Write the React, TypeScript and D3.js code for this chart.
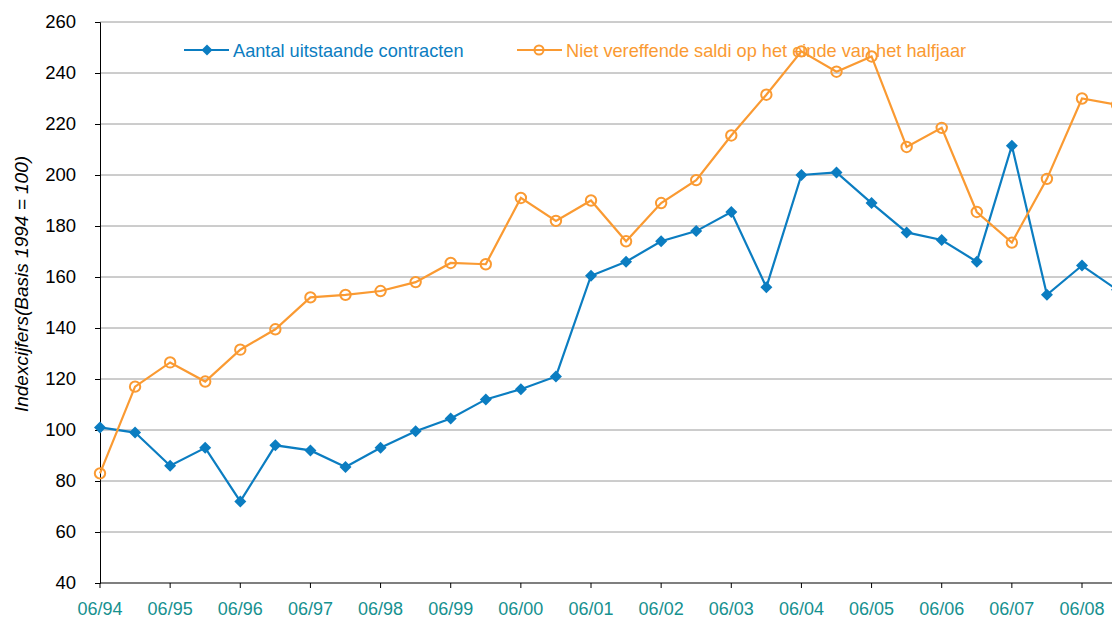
import React, { useEffect, useRef } from 'react';
import * as d3 from 'd3';

// half-year periods, 06/94 .. 12/08
const periods = [
  '06/94', '12/94', '06/95', '12/95', '06/96', '12/96', '06/97', '12/97', '06/98', '12/98',
  '06/99', '12/99', '06/00', '12/00', '06/01', '12/01', '06/02', '12/02', '06/03', '12/03',
  '06/04', '12/04', '06/05', '12/05', '06/06', '12/06', '06/07', '12/07', '06/08', '12/08',
];
const contracten = [
  101, 99, 86, 93, 72, 94, 92, 85.5, 93, 99.5,
  104.5, 112, 116, 121, 160.5, 166, 174, 178, 185.5, 156,
  200, 201, 189, 177.5, 174.5, 166, 211.5, 153, 164.5, 155,
];
const saldi = [
  83, 117, 126.5, 119, 131.5, 139.5, 152, 153, 154.5, 158,
  165.5, 165, 191, 182, 190, 174, 189, 198, 215.5, 231.5,
  248.5, 240.5, 246.5, 211, 218.5, 185.5, 173.5, 198.5, 230, 227.5,
];
const yTicks = [40, 60, 80, 100, 120, 140, 160, 180, 200, 220, 240, 260];
const seriesNames = ['Aantal uitstaande contracten', 'Niet vereffende saldi op het einde van het halfjaar'];

const BLUE = '#0b7dc1';
const ORANGE = '#fa9a32';
const TEAL = '#16918f';
const FONT = 'Liberation Sans, Arial, sans-serif';

// square diamond marker
const diamondPath = (s: number) => `M0,${-s}L${s},0L0,${s}L${-s},0Z`;

export default function App() {
  const ref = useRef<SVGSVGElement>(null);

  useEffect(() => {
    const svg = d3.select(ref.current);
    svg.selectAll('*').remove();
    const width = 1112;
    const left = 100;
    const top = 22;
    const bottom = 583;

    const x = d3.scaleLinear().domain([0, 28]).range([left, 1082]);
    const y = d3.scaleLinear().domain([40, 260]).range([bottom, top]);

    svg.append('defs').append('clipPath').attr('id', 'plotclip')
      .append('rect').attr('x', 0).attr('y', 0).attr('width', width).attr('height', 619);

    // gridlines
    svg.append('g')
      .selectAll('line')
      .data(yTicks.filter(d => d > 40))
      .join('line')
      .attr('x1', left)
      .attr('x2', width)
      .attr('y1', d => y(d))
      .attr('y2', d => y(d))
      .attr('stroke', '#9a9a9a')
      .attr('stroke-width', 1);

    // y axis
    const yAxis = d3.axisLeft(y).tickValues(yTicks).tickSize(5).tickPadding(19).tickFormat(d3.format('d'));
    const gy = svg.append('g').attr('transform', `translate(${left},0)`).call(yAxis);
    gy.select('.domain').attr('stroke', '#000');
    gy.selectAll('.tick line').attr('stroke', '#000');
    gy.selectAll('.tick text')
      .attr('fill', '#000')
      .style('font-family', FONT)
      .style('font-size', '18.5px');

    // x axis line + ticks
    svg.append('line')
      .attr('x1', left).attr('x2', width)
      .attr('y1', bottom).attr('y2', bottom)
      .attr('stroke', '#000').attr('stroke-width', 1.2);
    const yearIdx = periods.map((p, i) => i).filter(i => periods[i].startsWith('06'));
    svg.append('g')
      .selectAll('line')
      .data(yearIdx)
      .join('line')
      .attr('x1', d => x(d)).attr('x2', d => x(d))
      .attr('y1', bottom).attr('y2', bottom + 5)
      .attr('stroke', '#000');
    svg.append('g')
      .selectAll('text')
      .data(yearIdx)
      .join('text')
      .attr('x', d => x(d))
      .attr('y', 615)
      .attr('text-anchor', 'middle')
      .attr('fill', TEAL)
      .style('font-family', FONT)
      .style('font-size', '18px')
      .text(d => periods[d]);

    // y title
    svg.append('text')
      .attr('transform', 'translate(28,284) rotate(-90)')
      .attr('text-anchor', 'middle')
      .style('font-family', FONT)
      .style('font-size', '19px')
      .style('font-style', 'italic')
      .attr('fill', '#000')
      .text('Indexcijfers(Basis 1994 = 100)');

    // legend
    const lg = svg.append('g');
    lg.append('line').attr('x1', 184).attr('x2', 229).attr('y1', 50).attr('y2', 50).attr('stroke', BLUE).attr('stroke-width', 2);
    lg.append('path').attr('d', diamondPath(5.5)).attr('transform', 'translate(207,50)').attr('fill', BLUE);
    lg.append('text').attr('x', 233).attr('y', 57).attr('fill', BLUE)
      .style('font-family', FONT).style('font-size', '18.2px').text(seriesNames[0]);
    lg.append('line').attr('x1', 517).attr('x2', 562).attr('y1', 50).attr('y2', 50).attr('stroke', ORANGE).attr('stroke-width', 2);
    lg.append('circle').attr('cx', 539).attr('cy', 50).attr('r', 4.5).attr('fill', 'none').attr('stroke', ORANGE).attr('stroke-width', 2);
    lg.append('text').attr('x', 566).attr('y', 57).attr('fill', ORANGE)
      .style('font-family', FONT).style('font-size', '18.2px').text(seriesNames[1]);

    const plot = svg.append('g').attr('clip-path', 'url(#plotclip)');
    const line = d3.line<number>().x((d, i) => x(i)).y(d => y(d));

    plot.append('path').datum(contracten).attr('d', line).attr('fill', 'none').attr('stroke', BLUE).attr('stroke-width', 2.2);
    plot.selectAll('.dia')
      .data(contracten)
      .join('path')
      .attr('class', 'dia')
      .attr('d', diamondPath(6))
      .attr('transform', (d, i) => `translate(${x(i)},${y(d)})`)
      .attr('fill', BLUE);

    plot.append('path').datum(saldi).attr('d', line).attr('fill', 'none').attr('stroke', ORANGE).attr('stroke-width', 2.2);
    plot.selectAll('.circ')
      .data(saldi)
      .join('circle')
      .attr('class', 'circ')
      .attr('cx', (d, i) => x(i))
      .attr('cy', d => y(d))
      .attr('r', 5.2)
      .attr('fill', 'none')
      .attr('stroke', ORANGE)
      .attr('stroke-width', 2);
  }, []);

  return (
    <svg
      ref={ref}
      width={1112}
      height={619}
      style={{ position: 'absolute', left: 0, top: 0, background: '#fff' }}
    />
  );
}
